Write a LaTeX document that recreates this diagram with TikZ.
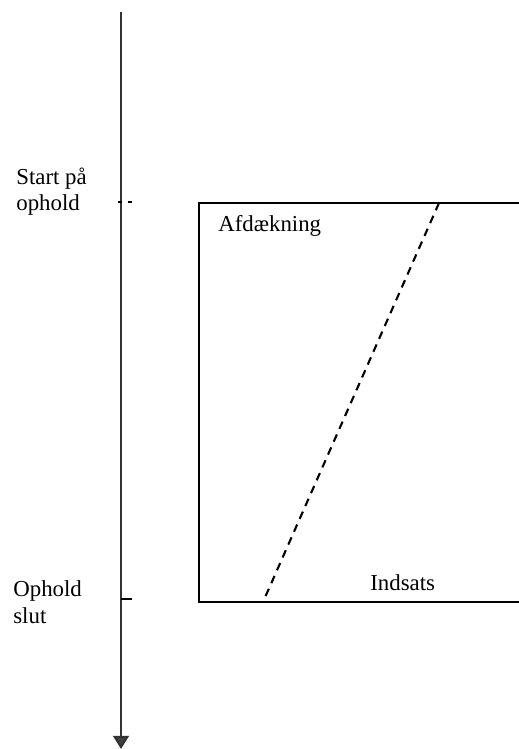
\documentclass[tikz,border=0pt]{standalone}
\usepackage{fontspec}
\setmainfont{Liberation Serif}
\usetikzlibrary{arrows.meta}

\begin{document}
\begin{tikzpicture}[x=0.02cm, y=-0.02cm,
    lbl/.style={inner sep=0pt, align=left, font=\fontsize{13}{15}\selectfont},
    axis/.style={draw=black!80, line width=1.2pt, -{Triangle[width=9pt, length=7.5pt, fill=black!75]}},
    frame/.style={line width=1.2pt},
    tick/.style={line width=0.8pt}]
        \useasboundingbox (0,0) rectangle (518,749);

        \coordinate (top) at (121,12);
        \coordinate (bottom) at (121,749);
        \coordinate (t1a) at (118,202);
        \coordinate (t1b) at (132,202);
        \coordinate (t2a) at (121,599);
        \coordinate (t2b) at (132,599);

        \coordinate (tl) at (199,203);
        \coordinate (tr) at (520,203);
        \coordinate (bl) at (199,602);
        \coordinate (br) at (520,602);
        \coordinate (d1) at (439,203);
        \coordinate (d2) at (263,602);

        \draw[axis] (top) -- (bottom);
        \draw[tick, dash pattern=on 2.5pt off 3pt] (t1a) -- (t1b);
        \draw[tick] (t2a) -- (t2b);

        \draw[frame] (tr) -- (tl) -- (bl) -- (br);
        \draw[line width=1.2pt, dash pattern=on 4.5pt off 3.5pt] (d1) -- (d2);

        \node[lbl, anchor=base west] (start) at (16,211) {Start på\\ophold};
        \node[lbl, anchor=base west] (slut) at (13,623) {Ophold\\slut};
        \node[lbl, anchor=base west] (afd) at (218,232) {Afdækning};
        \node[lbl, anchor=base west] (ind) at (370,590) {Indsats};
    \end{tikzpicture}
\end{document}
